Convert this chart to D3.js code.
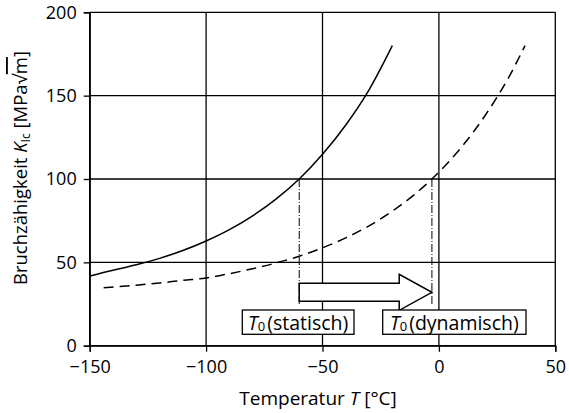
<!DOCTYPE html>
<html><head><meta charset="utf-8">
<script src="https://cdn.jsdelivr.net/npm/d3@7"></script>
<style>
body{margin:0;background:#fff;}
text{font-family:"Open Sans",sans-serif;fill:#000;}
</style></head>
<body><svg id="c" width="569" height="413"></svg>
<script>
const xTicks=[-150,-100,-50,0,50];
const yTicks=[0,50,100,150,200];
const staticT=[-150,-140,-130,-120,-110,-100,-90,-80,-70,-60,-50,-40,-30,-20];
const staticK=[41.8,45.3,48.5,52.4,57.1,62.8,69.6,77.9,87.9,100,114.8,132.4,153.5,180];
const dynT=[-144,-130,-120,-110,-100,-90,-80,-70,-60,-50,-40,-30,-20,-10,0,10,20,30,37];
const dynK=[34.8,36.3,37.6,39.2,40.6,43.2,46.2,49.6,53.7,58.7,64.7,71.9,80.7,91.3,104.1,119.6,138.4,161.0,180];
const T0static=-60, T0dyn=-3, K0=100, arrowY=32, lineBottom=24;
const labels=[{sub:"0",txt:"(statisch)"},{sub:"0",txt:"(dynamisch)"}];

const svg=d3.select("#c");
const L=89.7,R=555.3,T=12.3,B=345.7;
const x=d3.scaleLinear().domain([-150,50]).range([L,R]);
const y=d3.scaleLinear().domain([0,200]).range([B,T]);

// grid
svg.append("g").selectAll("line").data(xTicks).join("line")
 .attr("x1",d=>x(d)).attr("x2",d=>x(d)).attr("y1",T).attr("y2",B)
 .attr("stroke","#000").attr("stroke-width",1.3);
svg.append("g").selectAll("line").data(yTicks).join("line")
 .attr("x1",L).attr("x2",R).attr("y1",d=>y(d)).attr("y2",d=>y(d))
 .attr("stroke","#000").attr("stroke-width",1.3);

const xa=svg.append("g").attr("transform",`translate(0,${B})`)
 .call(d3.axisBottom(x).tickValues(xTicks).tickSize(6).tickPadding(9).tickFormat(d=>d<0?"\u2212"+Math.abs(d):d));
const ya=svg.append("g").attr("transform",`translate(${L},0)`)
 .call(d3.axisLeft(y).tickValues(yTicks).tickSize(6).tickPadding(7));
[xa,ya].forEach(a=>{a.selectAll("path,line").attr("stroke","#000").attr("stroke-width",1.3);
 a.selectAll("text").attr("font-size",18).attr("font-family","Open Sans").attr("fill","#000");});

// curves
const line=d3.line().x(d=>x(d[0])).y(d=>y(d[1])).curve(d3.curveMonotoneX);
svg.append("path").datum(staticT.map((t,i)=>[t,staticK[i]])).attr("d",line)
 .attr("fill","none").attr("stroke","#000").attr("stroke-width",1.5);
svg.append("path").datum(dynT.map((t,i)=>[t,dynK[i]])).attr("d",line)
 .attr("fill","none").attr("stroke","#000").attr("stroke-width",1.5).attr("stroke-dasharray","10,6");

// dash-dot verticals
[T0static,T0dyn].forEach(t=>{
 svg.append("line").attr("x1",x(t)).attr("x2",x(t)).attr("y1",y(K0)).attr("y2",y(lineBottom))
  .attr("stroke","#000").attr("stroke-width",1).attr("stroke-dasharray","8,2,1,2");
});

// arrow
const ax0=x(T0static), ax1=x(T0dyn), ay=y(arrowY);
const hb=ax1-32.7, th=9, hh=18;
svg.append("path").attr("d",`M${ax0},${ay-th}L${hb},${ay-th}L${hb},${ay-hh}L${ax1},${ay}L${hb},${ay+hh}L${hb},${ay+th}L${ax0},${ay+th}Z`)
 .attr("fill","#fff").attr("stroke","#000").attr("stroke-width",1.5);

// labels
const boxes=[{x:242.3,w:111.7},{x:382.7,w:143.3}];
labels.forEach((l,i)=>{
 const g=svg.append("g");
 g.append("rect").attr("x",boxes[i].x).attr("y",310).attr("width",boxes[i].w).attr("height",24.3)
  .attr("fill","#fff").attr("stroke","#000").attr("stroke-width",1.3);
 const t=g.append("text").attr("x",boxes[i].x+boxes[i].w/2).attr("y",329.5).attr("text-anchor","middle").attr("font-size",19.5);
 t.append("tspan").attr("font-style","italic").text("T");
 t.append("tspan").attr("font-size",13).attr("dy",1).text(l.sub);
 t.append("tspan").attr("dy",-1).attr("dx",2).text(l.txt);
});

// axis titles
const xt=svg.append("text").attr("x",318).attr("y",405).attr("text-anchor","middle").attr("font-size",19);
xt.append("tspan").text("Temperatur ");
xt.append("tspan").attr("font-style","italic").text("T");
xt.append("tspan").text(" [°C]");

const yt=svg.append("text").attr("transform","translate(27,168) rotate(-90)").attr("text-anchor","middle").attr("font-size",18.5);
yt.append("tspan").text("Bruchzähigkeit ");
yt.append("tspan").attr("font-style","italic").text("K");
yt.append("tspan").attr("font-size",12).attr("dy",3).text("Ic");
yt.append("tspan").attr("dy",-3).text(" [MPa√");
yt.append("tspan").attr("text-decoration","overline").text("m");
yt.append("tspan").text("]");
</script></body></html>
